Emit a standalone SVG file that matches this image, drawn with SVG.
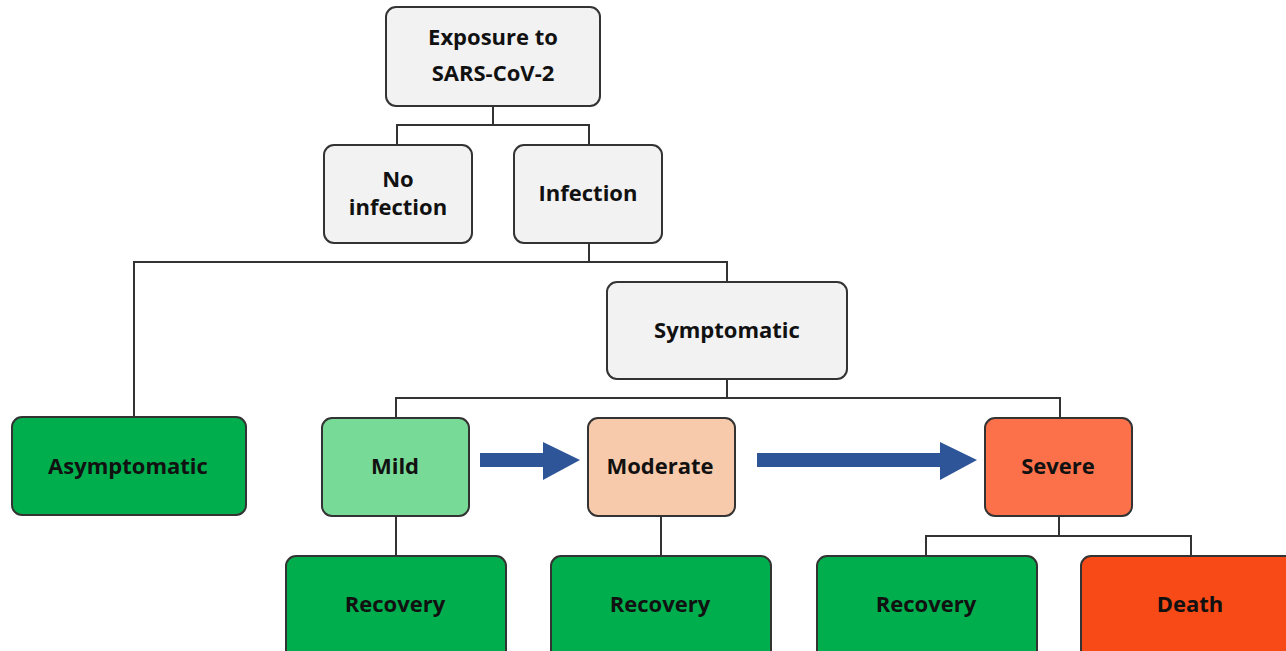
<svg xmlns="http://www.w3.org/2000/svg" width="1286" height="651" viewBox="0 0 1286 651">
<style>
.box{stroke:#333;stroke-width:2}
.grey{fill:#f2f2f2}
.green{fill:#00ae4d}
.mild{fill:#77da96}
.mod{fill:#f7caab}
.sev{fill:#fd714a}
.death{fill:#f84a17}
.lbl{font-family:"Open Sans","DejaVu Sans",sans-serif;font-weight:700;font-size:22px;fill:#111;text-anchor:middle}
.conn{fill:none;stroke:#333;stroke-width:2}
.arrow{fill:#2e5597}
</style>
<rect width="1286" height="651" fill="#ffffff"/>
<g id="connectors">
<path class="conn" d="M493 106V125M397 145V125H589V145"/>
<path class="conn" d="M589 243V262M134 417V262H727V282"/>
<path class="conn" d="M727 379V398M396 418V398H1060V418"/>
<path class="conn" d="M396 516V556"/>
<path class="conn" d="M661 516V556"/>
<path class="conn" d="M1059 516V536M926 556V536H1191V556"/>
<polygon class="arrow" points="480,453 543,453 543,442 580,460 543,480 543,467 480,467"/>
<polygon class="arrow" points="757,453 940,453 940,442 977,460 940,480 940,467 757,467"/>
</g>
<g id="exposure"><rect class="box grey" x="386" y="7" width="214" height="99" rx="10"/><text class="lbl" x="493" y="45">Exposure to</text><text class="lbl" x="493" y="81">SARS-CoV-2</text></g>
<g id="no-infection"><rect class="box grey" x="324" y="145" width="148" height="98" rx="10"/><text class="lbl" x="398" y="187">No</text><text class="lbl" x="398" y="215">infection</text></g>
<g id="infection"><rect class="box grey" x="514" y="145" width="148" height="98" rx="10"/><text class="lbl" x="588" y="201">Infection</text></g>
<g id="symptomatic"><rect class="box grey" x="607" y="282" width="240" height="97" rx="10"/><text class="lbl" x="727" y="338">Symptomatic</text></g>
<g id="asymptomatic"><rect class="box green" x="12" y="417" width="234" height="98" rx="10"/><text class="lbl" x="128" y="474">Asymptomatic</text></g>
<g id="mild"><rect class="box mild" x="322" y="418" width="147" height="98" rx="10"/><text class="lbl" x="395" y="474">Mild</text></g>
<g id="moderate"><rect class="box mod" x="588" y="418" width="147" height="98" rx="10"/><text class="lbl" x="660" y="474">Moderate</text></g>
<g id="severe"><rect class="box sev" x="985" y="418" width="147" height="98" rx="10"/><text class="lbl" x="1058" y="474">Severe</text></g>
<g id="recovery1"><rect class="box green" x="286" y="556" width="220" height="105" rx="10"/><text class="lbl" x="395" y="612">Recovery</text></g>
<g id="recovery2"><rect class="box green" x="551" y="556" width="220" height="105" rx="10"/><text class="lbl" x="660" y="612">Recovery</text></g>
<g id="recovery3"><rect class="box green" x="817" y="556" width="220" height="105" rx="10"/><text class="lbl" x="926" y="612">Recovery</text></g>
<g id="death"><rect class="box death" x="1081" y="556" width="220" height="105" rx="10"/><text class="lbl" x="1190" y="612">Death</text></g>
</svg>
